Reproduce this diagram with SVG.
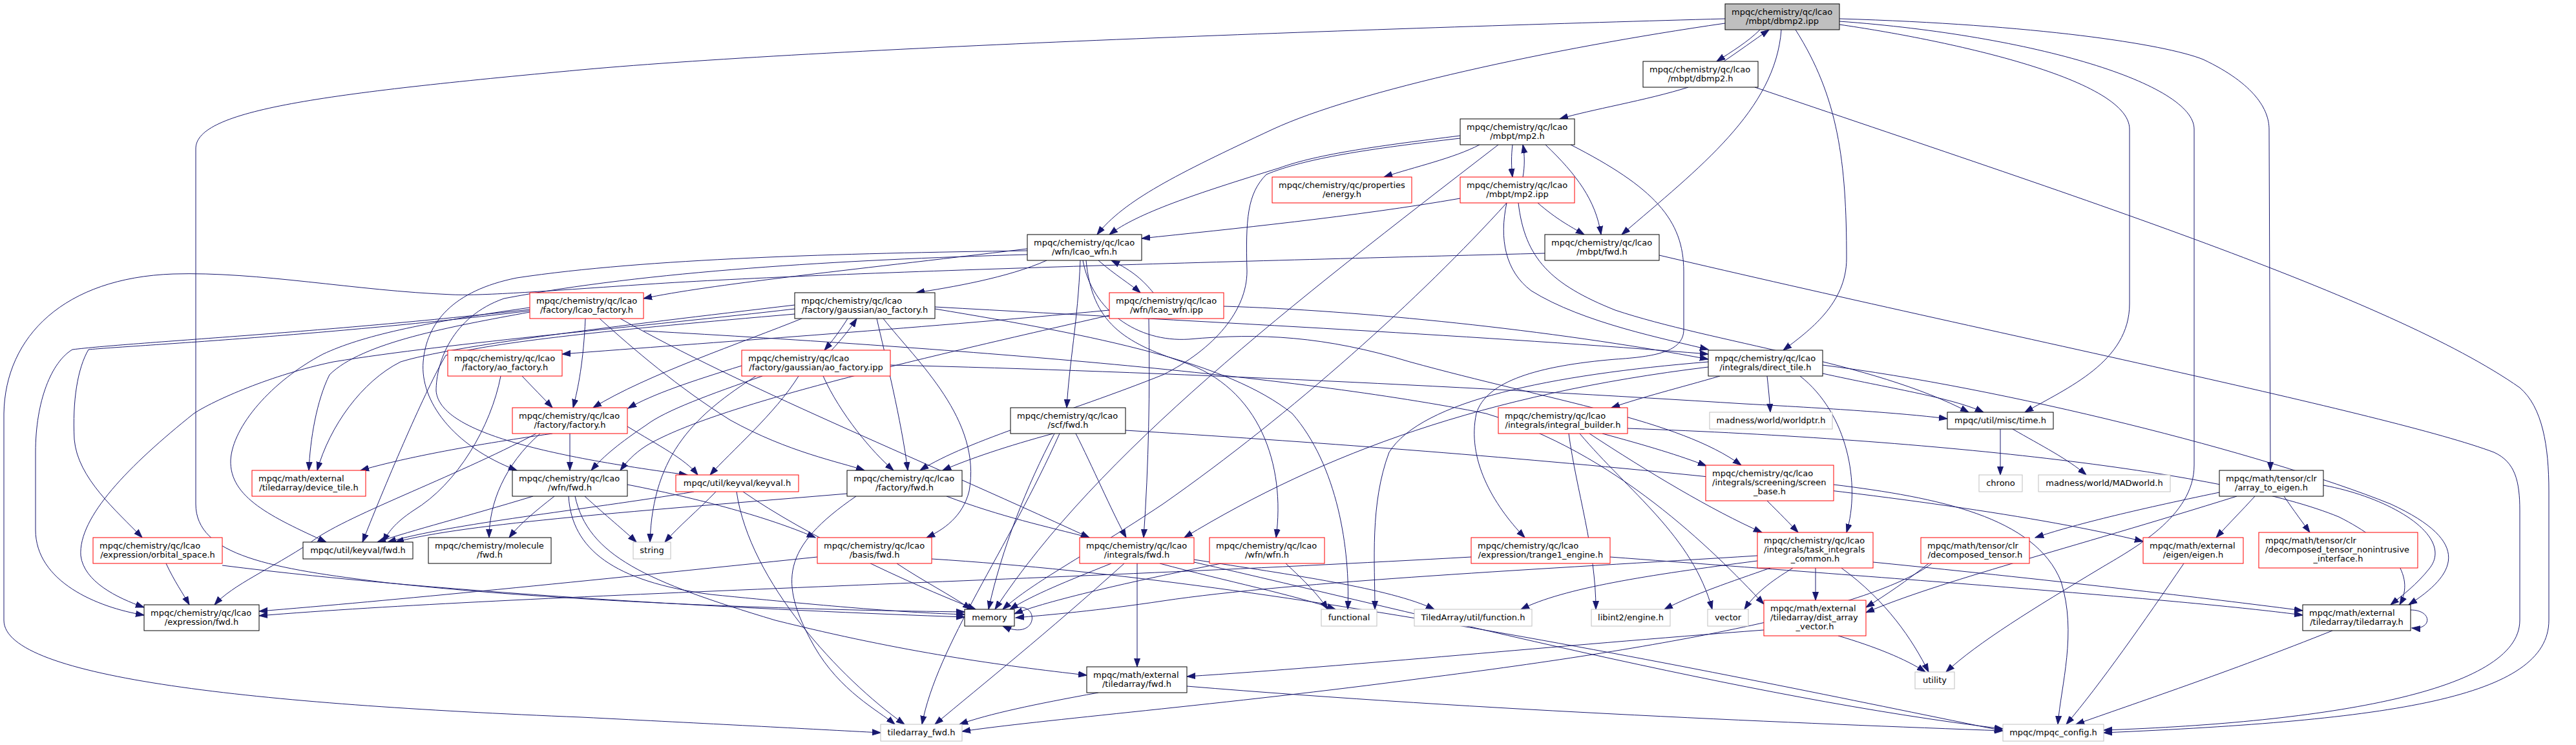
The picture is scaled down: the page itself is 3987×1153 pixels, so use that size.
<svg xmlns="http://www.w3.org/2000/svg" width="3987" height="1153" viewBox="0 0 3987 1153">
<style>
.e{fill:none;stroke:#191970;stroke-width:1;marker-end:url(#a)}
.n rect{fill:#fff;stroke:#000;stroke-width:1}
.r rect{stroke:#f00}
.x rect{stroke:#bfbfbf}
text{font-family:"DejaVu Sans","Liberation Sans",sans-serif;font-size:13px;fill:#000}
.m{text-anchor:middle}
</style>
<defs>
<marker id="a" markerUnits="userSpaceOnUse" markerWidth="14" markerHeight="12" viewBox="0 0 14 12" refX="13" refY="6" orient="auto"><path d="M0,1.5 L13,6 L0,10.5 z" fill="#191970" stroke="#191970"/></marker>
</defs>
<rect width="3987" height="1153" fill="#fff"/>
<g id="edges">
<path class="e" d="M2724,46 C2705,65 2680,80 2657,95"/>
<path class="e" d="M2668,95 C2690,80 2715,62 2738,46"/>
<path class="e" d="M2670,36 C2400,75 2100,140 1970,200 C1820,270 1740,310 1698,363"/>
<path class="e" d="M2757,46 C2748,170 2630,260 2510,363"/>
<path class="e" d="M2779,46 C2845,150 2858,250 2858,400 C2858,470 2800,512 2760,542"/>
<path class="e" d="M2670,29 C2200,42 1300,72 900,108 C500,145 303,170 303,230 L303,780 C303,860 420,880 600,902 C900,935 1300,945 1493,947"/>
<path class="e" d="M2847,38 C3000,60 3296,120 3296,200 L3296,470 C3296,560 3200,600 3134,638"/>
<path class="e" d="M2847,33 C3150,55 3396,130 3396,200 L3396,720 C3396,800 3300,850 3250,880 C3150,940 3060,995 3012,1040"/>
<path class="e" d="M2847,29 C3150,38 3350,68 3410,92 C3490,130 3512,170 3512,200 L3514,728"/>
<path class="e" d="M2613,135 C2550,155 2460,170 2414,184"/>
<path class="e" d="M2716,135 C3200,300 3700,460 3900,600 C3935,630 3945,690 3945,760 L3945,960 C3945,1080 3700,1115 3256,1134"/>
<path class="e" d="M2290,224 C2250,245 2190,258 2142,274"/>
<path class="e" d="M2341,224 C2339,240 2339,258 2341,274"/>
<path class="e" d="M2357,274 C2360,258 2360,240 2357,224"/>
<path class="e" d="M2260,210 C2140,225 2040,238 1980,260 C1850,300 1760,330 1717,363"/>
<path class="e" d="M2260,214 C2120,230 2020,245 1960,270 C1930,300 1928,340 1930,420 C1930,480 1880,540 1800,580 C1650,640 1500,680 1424,728"/>
<path class="e" d="M2319,224 C2000,470 1700,700 1540,943"/>
<path class="e" d="M2392,224 C2440,270 2470,310 2478,363"/>
<path class="e" d="M2431,224 C2560,290 2606,340 2606,420 L2606,510 C2606,545 2560,552 2500,556 C2380,566 2300,590 2285,640 C2270,710 2310,780 2360,832"/>
<path class="e" d="M2260,307 C2100,335 1900,355 1767,369"/>
<path class="e" d="M2380,314 C2410,340 2430,350 2452,363"/>
<path class="e" d="M2332,314 C2320,370 2330,420 2370,450 C2450,500 2580,525 2644,541"/>
<path class="e" d="M2350,314 C2360,400 2400,440 2500,480 C2650,530 2900,560 3047,638"/>
<path class="e" d="M2332,314 C2200,460 2000,640 1800,780 C1680,860 1600,900 1552,943"/>
<path class="e" d="M1590,385 C1300,420 1100,440 996,462"/>
<path class="e" d="M1620,403 C1560,430 1470,445 1418,453"/>
<path class="e" d="M1700,403 C1725,425 1750,440 1765,453"/>
<path class="e" d="M1785,453 C1770,435 1755,420 1720,403"/>
<path class="e" d="M1672,403 C1668,500 1655,560 1651,631"/>
<path class="e" d="M1590,388 C1300,392 1000,400 800,430 C700,450 660,500 655,560 C650,620 700,690 800,728"/>
<path class="e" d="M1590,394 C1300,402 1000,420 780,462 C700,490 675,560 675,605 C680,660 800,700 1064,735"/>
<path class="e" d="M1681,403 C1690,500 1740,530 1830,560 C1950,600 1990,720 1975,832"/>
<path class="e" d="M1676,403 C1690,480 1760,530 1840,525 C1950,515 2050,520 2182,560 C2400,620 2600,650 2695,720"/>
<path class="e" d="M2391,392 C2000,402 1300,420 1000,440 C850,450 750,458 700,456 C550,450 400,420 268,424 C100,430 8,520 6,640 L6,960 C6,1050 400,1090 900,1110 C1100,1120 1250,1128 1363,1134"/>
<path class="e" d="M2568,395 C3100,520 3700,640 3860,700 C3893,715 3900,745 3900,790 L3900,960 C3900,1070 3600,1118 3256,1130"/>
<path class="e" d="M820,479 C500,515 200,530 112,541 C80,560 55,620 55,700 L55,820 C55,900 150,940 223,952"/>
<path class="e" d="M820,481 C500,520 200,535 137,541 C120,570 112,620 115,680 C120,740 180,790 220,832"/>
<path class="e" d="M906,493 C903,560 895,600 887,631"/>
<path class="e" d="M820,476 C650,500 560,520 500,548 C420,590 360,660 357,712 C355,770 420,800 505,839"/>
<path class="e" d="M820,483 C700,505 560,530 510,580 C490,620 480,680 478,728"/>
<path class="e" d="M928,493 C980,540 1050,600 1130,650 C1220,700 1300,715 1338,728"/>
<path class="e" d="M960,493 C1150,600 1400,700 1686,832"/>
<path class="e" d="M996,512 C1500,540 2000,580 2300,640 C2500,700 2650,850 2730,935"/>
<path class="e" d="M1312,493 C1300,512 1288,528 1276,542"/>
<path class="e" d="M1287,542 C1300,528 1315,510 1326,493"/>
<path class="e" d="M1230,478 C1000,505 700,530 516,560 C420,580 330,620 300,640 C200,720 121,800 125,860 C130,900 180,925 223,940"/>
<path class="e" d="M1241,493 C1150,530 1000,580 918,631"/>
<path class="e" d="M1230,472 C950,505 700,535 620,560 C560,590 510,660 491,728"/>
<path class="e" d="M1357,493 C1370,550 1395,650 1405,728"/>
<path class="e" d="M1367,493 C1420,560 1520,650 1500,760 C1490,800 1460,820 1434,832"/>
<path class="e" d="M1447,475 C1900,500 2300,520 2644,548"/>
<path class="e" d="M1447,478 C1700,520 1900,560 2000,640 C2070,720 2090,850 2086,943"/>
<path class="e" d="M1230,486 C950,510 760,530 690,550 C660,600 600,740 561,839"/>
<path class="e" d="M1717,480 C1400,510 1100,530 870,548"/>
<path class="e" d="M1894,474 C2100,480 2400,510 2644,556"/>
<path class="e" d="M1717,488 C1400,560 1100,630 1000,690 C980,703 970,715 960,728"/>
<path class="e" d="M1778,493 C1780,600 1778,720 1770,832"/>
<path class="e" d="M808,582 C825,600 840,615 855,631"/>
<path class="e" d="M775,582 C760,660 708,749 640,790 C610,810 600,825 593,839"/>
<path class="e" d="M1148,566 C1070,590 1010,610 972,632"/>
<path class="e" d="M1180,582 C1100,610 1030,635 1000,658 C960,685 935,705 915,728"/>
<path class="e" d="M1236,582 C1200,640 1130,700 1099,735"/>
<path class="e" d="M1274,582 C1300,640 1350,700 1383,728"/>
<path class="e" d="M1170,582 C1080,640 1010,700 1006,839"/>
<path class="e" d="M1378,565 C1800,575 2300,600 2700,625 C2850,633 2950,640 3014,648"/>
<path class="e" d="M2662,582 C2600,600 2540,615 2494,631"/>
<path class="e" d="M2735,582 C2737,600 2739,620 2740,638"/>
<path class="e" d="M2821,578 C2920,600 3020,615 3070,638"/>
<path class="e" d="M2786,582 C2860,640 2880,750 2858,824"/>
<path class="e" d="M2821,565 C3100,600 3500,700 3700,780 C3830,840 3800,890 3728,936"/>
<path class="e" d="M2644,560 C2400,580 2200,620 2150,700 C2120,780 2128,870 2128,943"/>
<path class="e" d="M2644,568 C2300,610 2050,700 1833,832"/>
<path class="e" d="M2480,671 C2550,690 2600,705 2641,721"/>
<path class="e" d="M2460,671 C2550,730 2650,790 2727,824"/>
<path class="e" d="M2428,671 C2440,760 2470,850 2470,943"/>
<path class="e" d="M2445,671 C2520,760 2620,830 2650,943"/>
<path class="e" d="M2519,663 C3000,680 3450,730 3620,800 C3700,840 3740,890 3714,936"/>
<path class="e" d="M2735,775 C2755,795 2770,810 2783,824"/>
<path class="e" d="M2720,860 C2400,880 2000,900 1800,930 C1700,945 1620,952 1572,956"/>
<path class="e" d="M2720,868 C2550,890 2420,910 2354,943"/>
<path class="e" d="M2740,879 C2680,900 2620,920 2576,943"/>
<path class="e" d="M2775,879 C2740,900 2715,920 2700,943"/>
<path class="e" d="M2810,879 L2810,929"/>
<path class="e" d="M2850,879 C2920,930 2960,990 2985,1040"/>
<path class="e" d="M2899,870 C3200,900 3450,930 3564,945"/>
<path class="e" d="M2492,862 C3000,900 3400,930 3564,952"/>
<path class="e" d="M2277,862 C1600,900 800,920 401,953"/>
<path class="e" d="M1265,862 C900,900 600,930 401,946"/>
<path class="e" d="M1388,872 C1430,900 1470,920 1503,943"/>
<path class="e" d="M1442,865 C2000,900 2700,1050 3100,1131"/>
<path class="e" d="M1890,872 C1750,900 1620,930 1570,950"/>
<path class="e" d="M1990,872 C2020,900 2040,920 2055,943"/>
<path class="e" d="M1720,872 C1650,900 1600,920 1563,943"/>
<path class="e" d="M1740,872 C1620,980 1520,1060 1447,1121"/>
<path class="e" d="M1760,872 L1760,1032"/>
<path class="e" d="M1795,872 C1900,900 2000,920 2067,943"/>
<path class="e" d="M1848,866 C2000,890 2150,910 2220,943"/>
<path class="e" d="M1848,870 C2200,950 2700,1080 3100,1128"/>
<path class="e" d="M1630,671 C1560,690 1500,710 1459,728"/>
<path class="e" d="M1632,671 C1590,750 1550,850 1530,943"/>
<path class="e" d="M1665,671 C1690,720 1720,790 1743,832"/>
<path class="e" d="M1640,671 C1560,850 1450,1000 1427,1121"/>
<path class="e" d="M1742,666 C2300,700 3000,760 3317,838"/>
<path class="e" d="M855,671 C720,690 620,710 558,728"/>
<path class="e" d="M882,671 L882,728"/>
<path class="e" d="M836,671 C780,720 757,780 757,832"/>
<path class="e" d="M830,671 C700,740 530,800 480,840 C420,880 360,905 332,936"/>
<path class="e" d="M971,660 C1020,690 1060,710 1080,735"/>
<path class="e" d="M825,768 C720,800 640,820 584,839"/>
<path class="e" d="M1074,761 C900,790 700,810 600,839"/>
<path class="e" d="M1311,764 C1000,790 720,810 612,839"/>
<path class="e" d="M858,768 C830,790 805,810 788,832"/>
<path class="e" d="M905,768 C940,800 965,820 985,839"/>
<path class="e" d="M971,750 C1100,775 1200,805 1262,832"/>
<path class="e" d="M880,768 C885,850 950,900 1100,920 C1300,940 1400,948 1493,951"/>
<path class="e" d="M890,768 C910,860 1000,900 1200,960 C1400,1010 1550,1030 1682,1045"/>
<path class="e" d="M1108,761 C1080,790 1050,815 1029,839"/>
<path class="e" d="M1150,761 C1250,830 1400,900 1510,943"/>
<path class="e" d="M1140,761 C1160,900 1300,1050 1400,1121"/>
<path class="e" d="M1465,768 C1550,800 1620,815 1686,832"/>
<path class="e" d="M1325,768 C1210,847 1204,900 1260,1000 C1300,1070 1360,1100 1385,1121"/>
<path class="e" d="M257,872 C270,900 283,918 293,936"/>
<path class="e" d="M344,875 C700,920 1200,945 1493,955"/>
<path class="e" d="M2985,872 C2950,900 2920,920 2888,940"/>
<path class="e" d="M2990,872 C2900,940 2600,1000 2200,1050 C1900,1090 1600,1115 1489,1132"/>
<path class="e" d="M3435,762 C3300,790 3210,812 3150,832"/>
<path class="e" d="M3490,768 C3470,790 3450,810 3430,832"/>
<path class="e" d="M3535,768 C3550,790 3565,810 3575,824"/>
<path class="e" d="M3596,751 C3700,770 3800,830 3760,880 C3740,905 3720,920 3700,936"/>
<path class="e" d="M3462,768 C3200,850 3000,900 2888,948"/>
<path class="e" d="M3380,872 C3320,960 3250,1060 3198,1121"/>
<path class="e" d="M3610,976 C3450,1040 3300,1090 3213,1121"/>
<path class="e" d="M3731,944 C3765,944 3765,975 3733,972"/>
<path class="e" d="M1566,943 C1610,925 1610,995 1552,969"/>
<path class="e" d="M2730,975 C2400,1000 2100,1030 1837,1047"/>
<path class="e" d="M2845,984 C2900,1000 2950,1020 2980,1040"/>
<path class="e" d="M1700,1072 C1600,1090 1530,1105 1485,1121"/>
<path class="e" d="M1837,1062 C2300,1100 2800,1120 3100,1131"/>
<path class="e" d="M3096,664 L3096,735"/>
<path class="e" d="M3115,664 C3160,690 3200,710 3229,735"/>
<path class="e" d="M2838,750 C3000,770 3150,800 3190,900 C3215,980 3190,1060 3185,1121"/>
</g>
<g id="n1" class="n"><rect x="2670" y="6" width="177" height="40" style="fill:#bfbfbf"/><text x="2680" y="22.5">mpqc/chemistry/qc/lcao</text><text class="m" x="2758.5" y="36.5">/mbpt/dbmp2.ipp</text></g>
<g id="n2" class="n"><rect x="2543" y="95" width="178" height="40"/><text x="2553" y="111.5">mpqc/chemistry/qc/lcao</text><text class="m" x="2632" y="125.5">/mbpt/dbmp2.h</text></g>
<g id="n3" class="n"><rect x="2260" y="184" width="177" height="40"/><text x="2270" y="200.5">mpqc/chemistry/qc/lcao</text><text class="m" x="2348.5" y="214.5">/mbpt/mp2.h</text></g>
<g id="n4" class="n r"><rect x="1969" y="274" width="216" height="40"/><text x="1979" y="290.5">mpqc/chemistry/qc/properties</text><text class="m" x="2077" y="304.5">/energy.h</text></g>
<g id="n5" class="n r"><rect x="2260" y="274" width="177" height="40"/><text x="2270" y="290.5">mpqc/chemistry/qc/lcao</text><text class="m" x="2348.5" y="304.5">/mbpt/mp2.ipp</text></g>
<g id="n6" class="n"><rect x="1590" y="363" width="177" height="40"/><text x="1600" y="379.5">mpqc/chemistry/qc/lcao</text><text class="m" x="1678.5" y="393.5">/wfn/lcao_wfn.h</text></g>
<g id="n7" class="n"><rect x="2391" y="363" width="177" height="40"/><text x="2401" y="379.5">mpqc/chemistry/qc/lcao</text><text class="m" x="2479.5" y="393.5">/mbpt/fwd.h</text></g>
<g id="n8" class="n r"><rect x="820" y="453" width="176" height="40"/><text x="830" y="469.5">mpqc/chemistry/qc/lcao</text><text class="m" x="908" y="483.5">/factory/lcao_factory.h</text></g>
<g id="n9" class="n"><rect x="1230" y="453" width="217" height="40"/><text x="1240" y="469.5">mpqc/chemistry/qc/lcao</text><text class="m" x="1338.5" y="483.5">/factory/gaussian/ao_factory.h</text></g>
<g id="n10" class="n r"><rect x="1717" y="453" width="177" height="40"/><text x="1727" y="469.5">mpqc/chemistry/qc/lcao</text><text class="m" x="1805.5" y="483.5">/wfn/lcao_wfn.ipp</text></g>
<g id="n11" class="n r"><rect x="693" y="542" width="177" height="40"/><text x="703" y="558.5">mpqc/chemistry/qc/lcao</text><text class="m" x="781.5" y="572.5">/factory/ao_factory.h</text></g>
<g id="n12" class="n r"><rect x="1148" y="542" width="230" height="40"/><text x="1158" y="558.5">mpqc/chemistry/qc/lcao</text><text class="m" x="1263" y="572.5">/factory/gaussian/ao_factory.ipp</text></g>
<g id="n13" class="n"><rect x="2644" y="542" width="177" height="40"/><text x="2654" y="558.5">mpqc/chemistry/qc/lcao</text><text class="m" x="2732.5" y="572.5">/integrals/direct_tile.h</text></g>
<g id="n14" class="n r"><rect x="793" y="631" width="178" height="40"/><text x="803" y="647.5">mpqc/chemistry/qc/lcao</text><text class="m" x="882" y="661.5">/factory/factory.h</text></g>
<g id="n15" class="n"><rect x="1564" y="631" width="178" height="40"/><text x="1574" y="647.5">mpqc/chemistry/qc/lcao</text><text class="m" x="1653" y="661.5">/scf/fwd.h</text></g>
<g id="n16" class="n r"><rect x="2319" y="631" width="200" height="40"/><text x="2329" y="647.5">mpqc/chemistry/qc/lcao</text><text class="m" x="2419" y="661.5">/integrals/integral_builder.h</text></g>
<g id="n17" class="n x"><rect x="2646" y="638" width="190" height="26"/><text class="m" x="2741" y="655">madness/world/worldptr.h</text></g>
<g id="n18" class="n"><rect x="3014" y="638" width="164" height="26"/><text class="m" x="3096" y="655">mpqc/util/misc/time.h</text></g>
<g id="n19" class="n r"><rect x="390" y="728" width="176" height="40"/><text x="400" y="744.5">mpqc/math/external</text><text class="m" x="478" y="758.5">/tiledarray/device_tile.h</text></g>
<g id="n20" class="n"><rect x="793" y="728" width="178" height="40"/><text x="803" y="744.5">mpqc/chemistry/qc/lcao</text><text class="m" x="882" y="758.5">/wfn/fwd.h</text></g>
<g id="n21" class="n r"><rect x="1046" y="735" width="190" height="26"/><text class="m" x="1141" y="752">mpqc/util/keyval/keyval.h</text></g>
<g id="n22" class="n"><rect x="1311" y="728" width="178" height="40"/><text x="1321" y="744.5">mpqc/chemistry/qc/lcao</text><text class="m" x="1400" y="758.5">/factory/fwd.h</text></g>
<g id="n23" class="n r"><rect x="2640" y="720" width="198" height="55"/><text x="2650" y="736.5">mpqc/chemistry/qc/lcao</text><text x="2650" y="750.5">/integrals/screening/screen</text><text class="m" x="2739" y="764.5">_base.h</text></g>
<g id="n24" class="n x"><rect x="3063" y="735" width="67" height="26"/><text class="m" x="3096.5" y="752">chrono</text></g>
<g id="n25" class="n x"><rect x="3155" y="735" width="204" height="26"/><text class="m" x="3257" y="752">madness/world/MADworld.h</text></g>
<g id="n26" class="n"><rect x="3435" y="728" width="161" height="40"/><text x="3445" y="744.5">mpqc/math/tensor/clr</text><text class="m" x="3515.5" y="758.5">/array_to_eigen.h</text></g>
<g id="n27" class="n r"><rect x="144" y="832" width="200" height="40"/><text x="154" y="848.5">mpqc/chemistry/qc/lcao</text><text class="m" x="244" y="862.5">/expression/orbital_space.h</text></g>
<g id="n28" class="n"><rect x="469" y="839" width="170" height="26"/><text class="m" x="554" y="856">mpqc/util/keyval/fwd.h</text></g>
<g id="n29" class="n"><rect x="663" y="832" width="190" height="40"/><text x="673" y="848.5">mpqc/chemistry/molecule</text><text class="m" x="758" y="862.5">/fwd.h</text></g>
<g id="n30" class="n x"><rect x="980" y="839" width="58" height="26"/><text class="m" x="1009" y="856">string</text></g>
<g id="n31" class="n r"><rect x="1265" y="832" width="177" height="40"/><text x="1275" y="848.5">mpqc/chemistry/qc/lcao</text><text class="m" x="1353.5" y="862.5">/basis/fwd.h</text></g>
<g id="n32" class="n r"><rect x="1671" y="832" width="177" height="40"/><text x="1681" y="848.5">mpqc/chemistry/qc/lcao</text><text class="m" x="1759.5" y="862.5">/integrals/fwd.h</text></g>
<g id="n33" class="n r"><rect x="1872" y="832" width="178" height="40"/><text x="1882" y="848.5">mpqc/chemistry/qc/lcao</text><text class="m" x="1961" y="862.5">/wfn/wfn.h</text></g>
<g id="n34" class="n r"><rect x="2277" y="832" width="215" height="40"/><text x="2287" y="848.5">mpqc/chemistry/qc/lcao</text><text class="m" x="2384.5" y="862.5">/expression/trange1_engine.h</text></g>
<g id="n35" class="n r"><rect x="2720" y="824" width="179" height="55"/><text x="2730" y="840.5">mpqc/chemistry/qc/lcao</text><text x="2730" y="854.5">/integrals/task_integrals</text><text class="m" x="2809.5" y="868.5">_common.h</text></g>
<g id="n36" class="n r"><rect x="2973" y="832" width="168" height="40"/><text x="2983" y="848.5">mpqc/math/tensor/clr</text><text class="m" x="3057" y="862.5">/decomposed_tensor.h</text></g>
<g id="n37" class="n r"><rect x="3317" y="832" width="155" height="40"/><text x="3327" y="848.5">mpqc/math/external</text><text class="m" x="3394.5" y="862.5">/eigen/eigen.h</text></g>
<g id="n38" class="n r"><rect x="3496" y="824" width="246" height="55"/><text x="3506" y="840.5">mpqc/math/tensor/clr</text><text x="3506" y="854.5">/decomposed_tensor_nonintrusive</text><text class="m" x="3619" y="868.5">_interface.h</text></g>
<g id="n39" class="n"><rect x="223" y="936" width="178" height="40"/><text x="233" y="952.5">mpqc/chemistry/qc/lcao</text><text class="m" x="312" y="966.5">/expression/fwd.h</text></g>
<g id="n40" class="n"><rect x="1493" y="943" width="77" height="26"/><text class="m" x="1531.5" y="960">memory</text></g>
<g id="n41" class="n x"><rect x="2045" y="943" width="86" height="26"/><text class="m" x="2088" y="960">functional</text></g>
<g id="n42" class="n x"><rect x="2189" y="943" width="182" height="26"/><text class="m" x="2280" y="960">TiledArray/util/function.h</text></g>
<g id="n43" class="n x"><rect x="2463" y="943" width="122" height="26"/><text class="m" x="2524" y="960">libint2/engine.h</text></g>
<g id="n44" class="n x"><rect x="2643" y="943" width="63" height="26"/><text class="m" x="2674.5" y="960">vector</text></g>
<g id="n45" class="n r"><rect x="2730" y="929" width="158" height="55"/><text x="2740" y="945.5">mpqc/math/external</text><text x="2740" y="959.5">/tiledarray/dist_array</text><text class="m" x="2809" y="973.5">_vector.h</text></g>
<g id="n46" class="n"><rect x="3564" y="936" width="167" height="40"/><text x="3574" y="952.5">mpqc/math/external</text><text class="m" x="3647.5" y="966.5">/tiledarray/tiledarray.h</text></g>
<g id="n47" class="n"><rect x="1682" y="1032" width="155" height="40"/><text x="1692" y="1048.5">mpqc/math/external</text><text class="m" x="1759.5" y="1062.5">/tiledarray/fwd.h</text></g>
<g id="n48" class="n x"><rect x="2964" y="1040" width="61" height="26"/><text class="m" x="2994.5" y="1057">utility</text></g>
<g id="n49" class="n x"><rect x="1363" y="1121" width="126" height="26"/><text class="m" x="1426" y="1138">tiledarray_fwd.h</text></g>
<g id="n50" class="n x"><rect x="3100" y="1121" width="156" height="26"/><text class="m" x="3178" y="1138">mpqc/mpqc_config.h</text></g>
</svg>
